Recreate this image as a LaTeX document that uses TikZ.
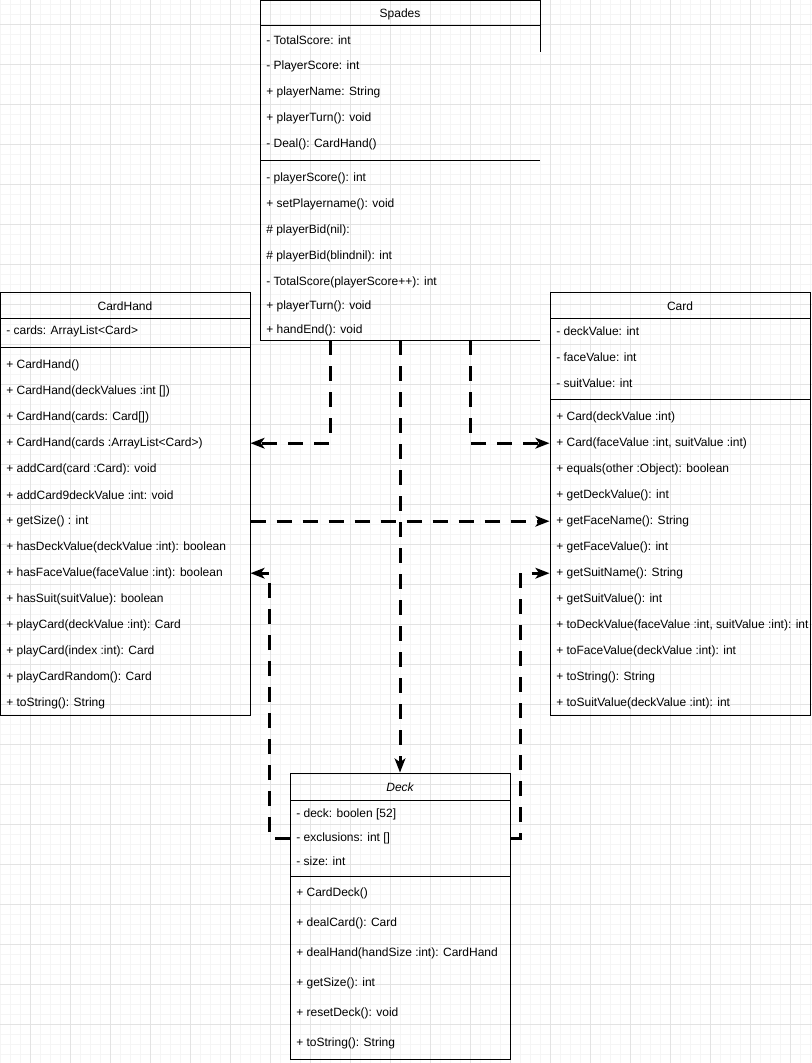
\documentclass[tikz,border=0pt]{standalone}
\usepackage{fontspec}
\setmainfont{Liberation Sans}
\usetikzlibrary{arrows.meta,calc,fit}
\begin{document}
\begin{tikzpicture}[x=0.75pt,y=-0.75pt,
  member/.style={anchor=west,inner sep=0pt,yshift=-0.9pt,font=\fontsize{9pt}{10pt}\selectfont},
  boxtitle/.style={inner sep=0pt,yshift=-0.9pt,font=\fontsize{9pt}{10pt}\selectfont},
  umlbox/.style={draw=black,line width=0.75pt,inner sep=0pt},
  seprule/.style={draw=black,line width=0.75pt},
  dep/.style={draw=black,line width=2.25pt,dash pattern=on 11.25pt off 8.25pt,
    -{Stealth[length=10.5pt,width=8pt,inset=2.7pt]}},
  gridminor/.style={draw=black!4,line width=0.75pt},
  gridmajor/.style={draw=black!11,line width=0.75pt}]

% page and background grid
\useasboundingbox (0,0) rectangle (812,1063);
\fill[white] (0,0) rectangle (812,1063);
\foreach \x in {0,10,...,810} \draw[gridminor] (\x+0.5,0) -- (\x+0.5,1063);
\foreach \y in {4,14,...,1054} \draw[gridminor] (0,\y+0.5) -- (812,\y+0.5);
\foreach \x in {30,70,...,790} \draw[gridmajor] (\x+0.5,0) -- (\x+0.5,1063);
\foreach \y in {24,64,...,1064} \draw[gridmajor] (0,\y+0.5) -- (812,\y+0.5);

% ---------- Spades ----------
\node[fit={(260,0.5) (540,340)},inner sep=0pt] (spades) {};
\draw[seprule] (540,52) -- (540,0.5) -- (260,0.5) -- (260,340) -- (540,340);
\draw[seprule] (260,26) -- (540,26);
\draw[seprule] (260,160) -- (540,160);
\node[boxtitle] (spT) at (400,13) {Spades};
\node[member] (sp1) at (266,39) {- TotalScore: int};
\node[member] (sp2) at (266,65) {- PlayerScore: int};
\node[member] (sp3) at (266,91) {+ playerName: String};
\node[member] (sp4) at (266,117) {+ playerTurn(): void};
\node[member] (sp5) at (266,143) {- Deal(): CardHand()};
\node[member] (sp6) at (266,177) {- playerScore(): int};
\node[member] (sp7) at (266,203) {+ setPlayername(): void};
\node[member] (sp8) at (266,229) {\# playerBid(nil):};
\node[member] (sp9) at (266,255) {\# playerBid(blindnil): int};
\node[member] (sp10) at (266,281) {- TotalScore(playerScore++): int};
\node[member] (sp11) at (266,305) {+ playerTurn(): void};
\node[member] (sp12) at (266,329) {+ handEnd(): void};

% ---------- CardHand ----------
\node[umlbox,fit={(0.5,292) (250,715)}] (cardhand) {};
\draw[seprule] (0.5,318) -- (250,318);
\draw[seprule] (0.5,347) -- (250,347);
\node[boxtitle] (chT) at (125,305) {CardHand};
\node[member] (cha) at (6,330) {- cards: ArrayList<Card>};
\node[member] (ch1) at (6,364) {+ CardHand()};
\node[member] (ch2) at (6,390) {+ CardHand(deckValues :int [])};
\node[member] (ch3) at (6,416) {+ CardHand(cards: Card[])};
\node[member] (ch4) at (6,442) {+ CardHand(cards :ArrayList<Card>)};
\node[member] (ch5) at (6,468) {+ addCard(card :Card): void};
\node[member] (ch6) at (6,494) {+ addCard9deckValue :int: void};
\node[member] (ch7) at (6,520) {+ getSize() : int};
\node[member] (ch8) at (6,546) {+ hasDeckValue(deckValue :int): boolean};
\node[member] (ch9) at (6,572) {+ hasFaceValue(faceValue :int): boolean};
\node[member] (ch10) at (6,598) {+ hasSuit(suitValue): boolean};
\node[member] (ch11) at (6,624) {+ playCard(deckValue :int): Card};
\node[member] (ch12) at (6,650) {+ playCard(index :int): Card};
\node[member] (ch13) at (6,676) {+ playCardRandom(): Card};
\node[member] (ch14) at (6,702) {+ toString(): String};

% ---------- Card ----------
\node[umlbox,fit={(550,292) (810,715)}] (card) {};
\draw[seprule] (550,318) -- (810,318);
\draw[seprule] (550,399) -- (810,399);
\node[boxtitle] (cT) at (680,305) {Card};
\node[member] (ca1) at (556,330) {- deckValue: int};
\node[member] (ca2) at (556,356) {- faceValue: int};
\node[member] (ca3) at (556,382) {- suitValue: int};
\node[member] (c1) at (556,416) {+ Card(deckValue :int)};
\node[member] (c2) at (556,442) {+ Card(faceValue :int, suitValue :int)};
\node[member] (c3) at (556,468) {+ equals(other :Object): boolean};
\node[member] (c4) at (556,494) {+ getDeckValue(): int};
\node[member] (c5) at (556,520) {+ getFaceName(): String};
\node[member] (c6) at (556,546) {+ getFaceValue(): int};
\node[member] (c7) at (556,572) {+ getSuitName(): String};
\node[member] (c8) at (556,598) {+ getSuitValue(): int};
\node[member] (c9) at (556,624) {+ toDeckValue(faceValue :int, suitValue :int): int};
\node[member] (c10) at (556,650) {+ toFaceValue(deckValue :int): int};
\node[member] (c11) at (556,676) {+ toString(): String};
\node[member] (c12) at (556,702) {+ toSuitValue(deckValue :int): int};

% ---------- Deck ----------
\node[umlbox,fit={(290,773) (510,1059)}] (deck) {};
\draw[seprule] (290,800) -- (510,800);
\draw[seprule] (290,876) -- (510,876);
\node[boxtitle,font=\fontsize{9pt}{10pt}\selectfont\itshape] (dT) at (400,786) {Deck};
\node[member] (da1) at (296,813) {- deck: boolen [52]};
\node[member] (da2) at (296,837) {- exclusions: int []};
\node[member] (da3) at (296,860) {- size: int};
\node[member] (d1) at (296,892) {+ CardDeck()};
\node[member] (d2) at (296,922) {+ dealCard(): Card};
\node[member] (d3) at (296,952) {+ dealHand(handSize :int): CardHand};
\node[member] (d4) at (296,982) {+ getSize(): int};
\node[member] (d5) at (296,1012) {+ resetDeck(): void};
\node[member] (d6) at (296,1042) {+ toString(): String};

% ---------- dependencies ----------
\draw[dep] ($(spades.south)+(-70,0)$) |- (cardhand.east |- ch4);
\draw[dep] (spades.south) -- (deck.north);
\draw[dep] ($(spades.south)+(70,0)$) |- (card.west |- c2);
\draw[dep] (cardhand.east |- ch7) -- (card.west |- c5);
\draw[dep] (deck.west |- da2) -- ++(-20,0) |- (cardhand.east |- ch9);
\draw[dep] (deck.east |- da2) -- ++(10,0) |- (card.west |- c7);

\end{tikzpicture}
\end{document}
